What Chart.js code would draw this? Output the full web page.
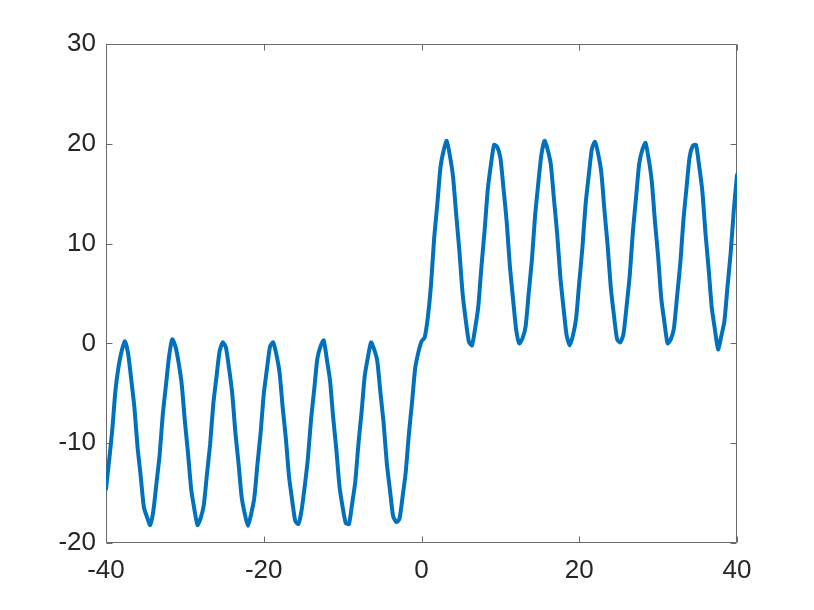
<!DOCTYPE html>
<html>
<head>
<meta charset="utf-8">
<script src="https://cdn.jsdelivr.net/npm/chart.js@4"></script>
<style>
  html, body { margin: 0; padding: 0; background: #ffffff; }
  #wrap { width: 814px; height: 610px; position: relative; }
</style>
</head>
<body>
<div id="wrap"><canvas id="c" width="814" height="610"></canvas></div>
<script>
// ---- data ----
const xValues = [
  -40,-39.6,-39.2,-38.8,-38.4,-38,-37.6,-37.2,-36.8,-36.4,
  -36,-35.6,-35.2,-34.8,-34.4,-34,-33.6,-33.2,-32.8,-32.4,
  -32,-31.6,-31.2,-30.8,-30.4,-30,-29.6,-29.2,-28.8,-28.4,
  -28,-27.6,-27.2,-26.8,-26.4,-26,-25.6,-25.2,-24.8,-24.4,
  -24,-23.6,-23.2,-22.8,-22.4,-22,-21.6,-21.2,-20.8,-20.4,
  -20,-19.6,-19.2,-18.8,-18.4,-18,-17.6,-17.2,-16.8,-16.4,
  -16,-15.6,-15.2,-14.8,-14.4,-14,-13.6,-13.2,-12.8,-12.4,
  -12,-11.6,-11.2,-10.8,-10.4,-10,-9.6,-9.2,-8.8,-8.4,
  -8,-7.6,-7.2,-6.8,-6.4,-6,-5.6,-5.2,-4.8,-4.4,
  -4,-3.6,-3.2,-2.8,-2.4,-2,-1.6,-1.2,-0.8,-0.4,
  0,
  0.4,0.8,1.2,1.6,2,2.4,2.8,3.2,3.6,4,
  4.4,4.8,5.2,5.6,6,6.4,6.8,7.2,7.6,8,
  8.4,8.8,9.2,9.6,10,10.4,10.8,11.2,11.6,12,
  12.4,12.8,13.2,13.6,14,14.4,14.8,15.2,15.6,16,
  16.4,16.8,17.2,17.6,18,18.4,18.8,19.2,19.6,20,
  20.4,20.8,21.2,21.6,22,22.4,22.8,23.2,23.6,24,
  24.4,24.8,25.2,25.6,26,26.4,26.8,27.2,27.6,28,
  28.4,28.8,29.2,29.6,30,30.4,30.8,31.2,31.6,32,
  32.4,32.8,33.2,33.6,34,34.4,34.8,35.2,35.6,36,
  36.4,36.8,37.2,37.6,38,38.4,38.8,39.2,39.6,40
];
const yValues = [
  -14.6,-11.7,-8.6,-4.7,-2.3,-0.7,0.2,-1.0,-3.6,-6.4,
  -10.4,-13.3,-16.4,-17.4,-18.2,-16.8,-14.0,-11.2,-7.1,-4.2,
  -1.3,0.4,-0.3,-1.9,-4.1,-7.8,-11.0,-14.6,-16.6,-18.2,
  -17.5,-16.2,-13.1,-10.1,-6.1,-3.4,-0.8,0.1,-0.4,-2.5,
  -5.0,-8.9,-12.0,-15.4,-17.1,-18.3,-17.1,-15.5,-12.1,-9.0,
  -5.1,-2.6,-0.3,0.1,-1.1,-2.9,-6.4,-9.5,-13.3,-15.7,
  -17.8,-18.1,-16.7,-14.3,-11.5,-7.6,-4.6,-1.5,-0.3,0.3,
  -1.6,-3.7,-7.4,-10.6,-14.3,-16.4,-18.0,-18.1,-16.1,-13.9,
  -10.1,-6.9,-3.3,-1.4,0.1,-0.6,-1.8,-5.0,-8.0,-12.0,
  -14.7,-17.3,-17.9,-17.6,-15.4,-12.9,-9.1,-5.9,-2.5,-0.9,
  0.2,
  0.6,2.6,5.8,10.5,13.9,17.6,19.3,20.3,18.8,16.7,
  12.9,9.3,5.1,2.4,0.2,-0.2,1.5,3.7,7.7,11.3,
  15.4,17.9,19.9,19.7,18.6,15.5,12.2,7.8,4.5,1.4,
  0.0,0.5,1.7,5.1,8.4,12.8,16.0,18.9,20.3,19.4,
  17.9,14.4,11.0,6.7,3.6,0.8,-0.2,0.8,2.5,6.1,
  9.6,13.9,16.8,19.5,20.2,19.0,17.1,13.3,9.8,5.6,
  2.8,0.4,0.1,0.9,3.7,6.8,11.2,14.6,18.0,19.4,
  20.1,18.5,16.2,12.2,8.7,4.5,2.1,0.0,0.4,1.5,
  4.7,7.9,12.3,15.6,18.7,19.8,19.9,17.8,15.3,11.1,
  7.5,3.6,1.4,-0.6,0.7,2.2,5.7,9.1,13.4,16.9
];
const xTicks = [-40, -20, 0, 20, 40];
const yTicks = [-20, -10, 0, 10, 20, 30];

// ---- build chart ----
const points = xValues.map((x, i) => ({ x: x, y: yValues[i] }));
const axisColor = '#6a6a6a';
const textColor = '#262626';
const fontFamily = "'Liberation Sans', Arial, Helvetica, sans-serif";

const boxAndTicks = {
  id: 'boxAndTicks',
  beforeDatasetsDraw(chart) {
    const ctx = chart.ctx;
    const a = chart.chartArea;
    const xs = chart.scales.x, ys = chart.scales.y;
    const L = Math.round(a.left) + 0.5, R = Math.round(a.right) - 0.5;
    const T = Math.round(a.top) + 0.5, B = Math.round(a.bottom) - 0.5;
    const len = 6;
    ctx.save();
    ctx.strokeStyle = axisColor;
    ctx.lineWidth = 1;
    ctx.beginPath();
    ctx.rect(L, T, R - L, B - T);
    xTicks.forEach(v => {
      const p = Math.round(xs.getPixelForValue(v)) + 0.5;
      ctx.moveTo(p, B); ctx.lineTo(p, B - len);
      ctx.moveTo(p, T); ctx.lineTo(p, T + len);
    });
    yTicks.forEach(v => {
      const p = Math.round(ys.getPixelForValue(v)) + 0.5;
      ctx.moveTo(L, p); ctx.lineTo(L + len, p);
      ctx.moveTo(R, p); ctx.lineTo(R - len, p);
    });
    ctx.stroke();
    ctx.restore();
  }
};

new Chart(document.getElementById('c'), {
  type: 'line',
  data: {
    datasets: [{
      data: points,
      borderColor: '#0072BD',
      borderWidth: 4,
      pointRadius: 0,
      tension: 0.2,
      fill: false,
      borderJoinStyle: 'round',
      borderCapStyle: 'round'
    }]
  },
  options: {
    responsive: false,
    animation: false,
    devicePixelRatio: 1,
    layout: { padding: { top: 44, right: 77, bottom: 0, left: 0 } },
    plugins: { legend: { display: false }, tooltip: { enabled: false } },
    scales: {
      x: {
        type: 'linear',
        min: -40, max: 40,
        afterFit(s) { s.height = 67; },
        afterBuildTicks(s) { s.ticks = xTicks.map(v => ({ value: v })); },
        grid: { display: false, drawTicks: false },
        border: { display: false },
        ticks: {
          color: textColor,
          padding: 12,
          maxRotation: 0,
          font: { family: fontFamily, size: 26 }
        }
      },
      y: {
        type: 'linear',
        min: -20, max: 30,
        afterFit(s) { s.width = 106; },
        afterBuildTicks(s) { s.ticks = yTicks.map(v => ({ value: v })); },
        grid: { display: false, drawTicks: false },
        border: { display: false },
        ticks: {
          color: textColor,
          padding: 10,
          font: { family: fontFamily, size: 26 }
        }
      }
    }
  },
  plugins: [boxAndTicks]
});
</script>
</body>
</html>
